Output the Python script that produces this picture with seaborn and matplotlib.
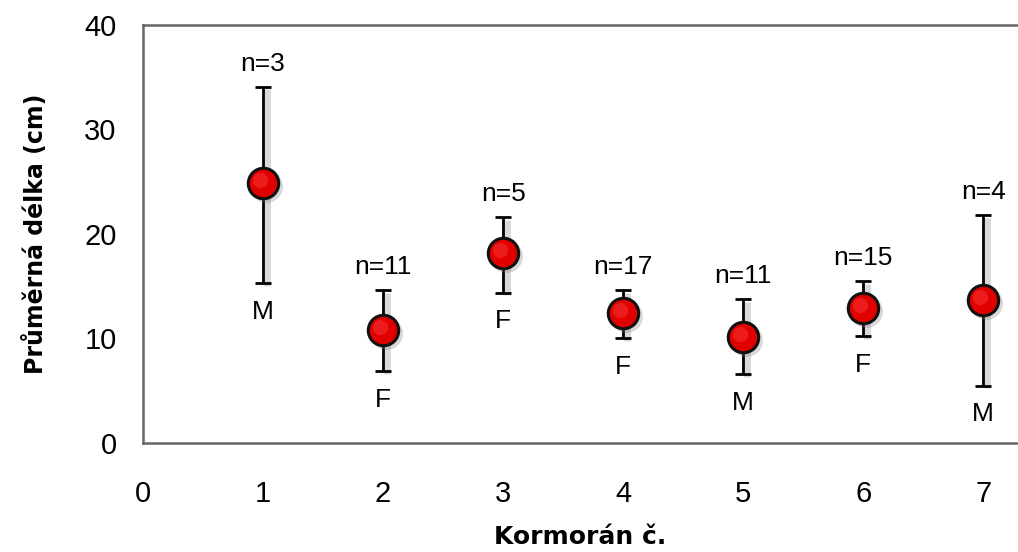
import numpy as np
import pandas as pd
import matplotlib
matplotlib.use("Agg")
import matplotlib.pyplot as plt
import matplotlib.patheffects as pe
import matplotlib.transforms as mtrans
import seaborn as sns

# data
kormoran = [1, 2, 3, 4, 5, 6, 7]
mean_len = [24.9, 10.8, 18.2, 12.4, 10.1, 12.9, 13.7]
upper = [34.1, 14.6, 21.6, 14.6, 13.8, 15.5, 21.8]
lower = [15.3, 6.9, 14.4, 10.0, 6.6, 10.2, 5.5]
n_labels = ["n=3", "n=11", "n=5", "n=17", "n=11", "n=15", "n=4"]
sex = ["M", "F", "F", "F", "M", "F", "M"]

df = pd.DataFrame({"kormoran": kormoran, "mean": mean_len,
                   "upper": upper, "lower": lower})

sns.set_style("white")
plt.rcParams["font.family"] = ["Liberation Sans", "DejaVu Sans"]
plt.rcParams["text.color"] = "black"

fig = plt.figure(figsize=(10.18, 5.52), dpi=100)
ax = fig.add_axes([0.1405, 0.1975, 0.8595, 0.7572])

soft = [pe.SimpleLineShadow(offset=(2.5, -2), shadow_color="gray", alpha=0.3, linewidth=5),
        pe.Normal()]

# error bars
err = [df["mean"] - df["lower"], df["upper"] - df["mean"]]
eb = ax.errorbar(df["kormoran"], df["mean"], yerr=err, fmt="none",
                 ecolor="black", elinewidth=2, capsize=6, capthick=2, zorder=2)
for coll in eb.lines[2]:
    coll.set_path_effects(soft)

# marker shadow
ax.scatter(df["kormoran"], df["mean"], s=560, color="gray", alpha=0.3,
           linewidths=0, zorder=3,
           transform=ax.transData + mtrans.ScaledTranslation(3/100, -3/100, fig.dpi_scale_trans))

sns.scatterplot(data=df, x="kormoran", y="mean", s=480, color="#e00000",
                edgecolor="#111111", linewidth=2.2, zorder=4, ax=ax, legend=False)
# subtle highlight for a sphere look
ax.scatter(df["kormoran"], df["mean"], s=120, color="#ff4040", alpha=0.45,
           linewidths=0, zorder=5,
           transform=ax.transData + mtrans.ScaledTranslation(-3/100, 3/100, fig.dpi_scale_trans))

for x, up, lo, n, s in zip(kormoran, upper, lower, n_labels, sex):
    ax.annotate(n, (x, up), xytext=(0, 8), textcoords="offset points",
                ha="center", va="bottom", fontsize=19, color="black")
    ax.annotate(s, (x, lo), xytext=(0, -12), textcoords="offset points",
                ha="center", va="top", fontsize=19, color="black")

ax.set_xlim(0, 7.29)
ax.set_ylim(0, 40)
ax.set_xticks(range(0, 8))
ax.set_yticks(range(0, 41, 10))
ax.tick_params(axis="both", direction="out", length=7, width=1.3,
               color="#555555", labelsize=21, labelcolor="black")
ax.tick_params(axis="y", pad=12)
ax.tick_params(axis="x", pad=20)

for side in ["left", "bottom", "top"]:
    ax.spines[side].set_color("#666666")
    ax.spines[side].set_linewidth(1.8)
ax.spines["right"].set_visible(False)

ax.set_xlabel("Kormorán č.", fontsize=18, fontweight="bold",
              family="DejaVu Sans", labelpad=12, color="black")
ax.set_ylabel("Průměrná délka (cm)", fontsize=17, fontweight="bold",
              family="DejaVu Sans", labelpad=26, color="black")

fig.savefig("out.png", dpi=100)
